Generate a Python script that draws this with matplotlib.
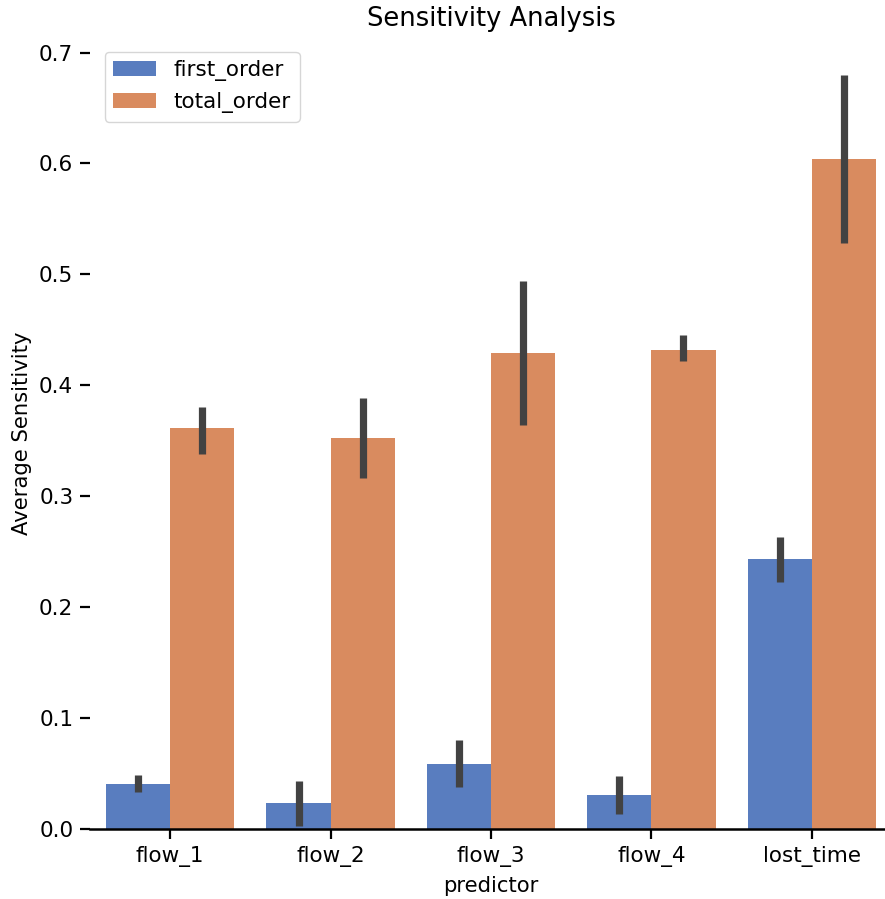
import numpy as np
import matplotlib
matplotlib.use("Agg")
import matplotlib.pyplot as plt
import seaborn as sns

# values
predictors = ["flow_1", "flow_2", "flow_3", "flow_4", "lost_time"]
first_order = [0.0406, 0.0235, 0.0590, 0.0310, 0.2436]
first_lo = [0.0335, 0.0030, 0.0380, 0.0135, 0.2230]
first_hi = [0.0490, 0.0430, 0.0800, 0.0480, 0.2630]
total_order = [0.3617, 0.3527, 0.4294, 0.4320, 0.6044]
total_lo = [0.3380, 0.3166, 0.3644, 0.4220, 0.5286]
total_hi = [0.3807, 0.3888, 0.4940, 0.4456, 0.6800]
series = ["first_order", "total_order"]

pal = sns.color_palette("muted")
cols = [sns.desaturate(pal[0], 0.75), sns.desaturate(pal[1], 0.75)]

fig = plt.figure(figsize=(8.85, 8.99), dpi=100)
ax = fig.add_axes([90 / 885, 1 - 829 / 899, 802 / 885, (829 - 37) / 899])

x = np.arange(len(predictors))
w = 0.4
for i, (vals, lo, hi) in enumerate([(first_order, first_lo, first_hi),
                                     (total_order, total_lo, total_hi)]):
    pos = x - w / 2 + i * w
    ax.bar(pos, vals, width=w, color=cols[i], label=series[i], align="center")
    for p, l, h in zip(pos, lo, hi):
        ax.plot([p, p], [l, h], color="#424242", lw=5.2, solid_capstyle="butt")

ax.set_xlim(-0.5, len(predictors) - 0.5)
ax.set_ylim(0, 0.714)
ax.set_xticks(x)
ax.set_xticklabels(predictors)
ax.set_yticks(np.arange(0, 0.71, 0.1))
ax.set_yticklabels(["%.1f" % v for v in np.arange(0, 0.71, 0.1)])
ax.tick_params(labelsize=15.5, length=7, width=1.6, pad=5)
for s in ["left", "top", "right"]:
    ax.spines[s].set_visible(False)
ax.spines["bottom"].set_linewidth(1.8)
ax.set_xlabel("predictor", fontsize=15.2, labelpad=7)
ax.set_ylabel("Average Sensitivity", fontsize=15.2, labelpad=5)
ax.set_title("Sensitivity Analysis", fontsize=18.5, pad=8)
ax.legend(loc="upper left", fontsize=15.5, bbox_to_anchor=(0.005, 0.995))

fig.savefig("out.png", dpi=100)
